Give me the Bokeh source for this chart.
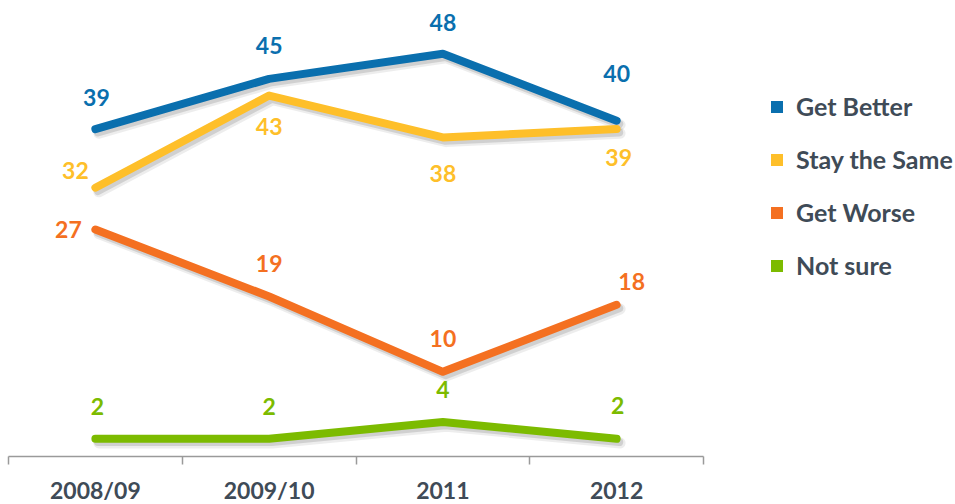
from bokeh.plotting import figure
from bokeh.models import (Range1d, LinearAxis, FixedTicker,
                          ColumnDataSource, Legend, LegendItem)
from bokeh.transform import dodge
from bokeh.core.properties import value
from bokeh.embed import file_html
from bokeh.resources import INLINE

# ---- data ----
categories = ["2008/09", "2009/10", "2011", "2012"]
get_better = [39, 45, 48, 40]
stay_same = [32, 43, 38, 39]
get_worse = [27, 19, 10, 18]
not_sure = [2, 2, 4, 2]
series_names = ["Get Better", "Stay the Same", "Get Worse", "Not sure"]
series_values = [get_better, stay_same, get_worse, not_sure]

# ---- style ----
colors = ["#0A6FAE", "#FEBF2A", "#F47021", "#7CBB00"]
text_color = "#3F4B57"
axis_color = "#9A9A9A"
FONT = "Lato"
label_dx = [[1, 0, 0, 0], [-20, 0, 0, 2], [-27, 0, 0, 15], [2, 0, 0, 1]]
label_dy = [[-32, -33, -31, -47], [-17, 31, 36, 28], [0, -33, -33, -23], [-32, -32, -33, -33]]

n = len(categories)
centers = [i + 0.5 for i in range(n)]          # category slot centres
edges = list(range(n + 1))                      # category slot boundaries

W, H = 955, 504
SLOT_PX = 173.75
LEFT_PX = 8
X_START = -LEFT_PX / SLOT_PX
X_END = (W - LEFT_PX) / SLOT_PX      # room on the right for the legend
Y_PX = 8.37                          # pixels per percentage point
ZERO_PX = 455                        # screen row of value 0
Y_BASE = -0.12                       # where the baseline sits
p = figure(width=W, height=H, x_range=Range1d(X_START, X_END),
           y_range=Range1d(-(H - ZERO_PX) / Y_PX, ZERO_PX / Y_PX),
           x_axis_location=None, y_axis_location=None, toolbar_location=None,
           output_backend="svg", min_border_left=0, min_border_right=0,
           min_border_top=0, min_border_bottom=0)
p.outline_line_color = None
p.background_fill_color = "white"
p.grid.visible = False

xaxis = LinearAxis(ticker=FixedTicker(ticks=centers, minor_ticks=edges),
                   bounds=(0, n), fixed_location=Y_BASE,
                   major_label_overrides={c: lab for c, lab in zip(centers, categories)},
                   major_tick_line_color=None, major_tick_in=0, major_tick_out=0,
                   minor_tick_in=0, minor_tick_out=8,
                   minor_tick_line_color=axis_color, minor_tick_line_width=1.5,
                   axis_line_color=axis_color, axis_line_width=1.5,
                   major_label_text_font=FONT, major_label_text_font_size="23px",
                   major_label_text_font_style="bold", major_label_text_color=text_color,
                   major_label_standoff=11)
p.add_layout(xaxis, "below")

sources = []
for vals, dx, dy in zip(series_values, label_dx, label_dy):
    sources.append(ColumnDataSource(dict(x=centers, y=vals, lbl=[str(v) for v in vals],
                                         dx=dx, dy=dy)))

# shadows (drawn beneath)
for src in reversed(sources):
    p.line(x=dodge("x", 0.02), y=dodge("y", -0.5), source=src,
           line_width=11, line_color="black", line_alpha=0.07,
           line_cap="round", line_join="round")
    p.line(x=dodge("x", 0.015), y=dodge("y", -0.4), source=src,
           line_width=8, line_color="black", line_alpha=0.12,
           line_cap="round", line_join="round")

for src, c in zip(reversed(sources), reversed(colors)):
    p.line("x", "y", source=src, line_width=8, line_color=c,
           line_cap="round", line_join="round")

for src, c in zip(sources, colors):
    p.text("x", "y", text="lbl", source=src, x_offset="dx", y_offset="dy",
           text_align="center", text_baseline="middle", text_font=value(FONT),
           text_font_style="bold", text_font_size="23px", text_color=c)

# zero-size swatch renderers, used only as legend keys
items = []
for name, vals, c in zip(series_names, series_values, colors):
    r = p.rect(x=centers[:1], y=vals[:1], width=0, height=0,
               fill_color=c, line_color=None)
    items.append(LegendItem(label=name, renderers=[r]))

legend = Legend(items=items, location=(769, 224), orientation="vertical",
                glyph_width=15, glyph_height=15, label_standoff=12, spacing=23,
                padding=0, margin=0, border_line_color=None, background_fill_alpha=0,
                label_text_font=FONT, label_text_font_style="bold",
                label_text_font_size="25px", label_text_color=text_color)
p.add_layout(legend)

open("out.html", "w").write(file_html(p, INLINE))
